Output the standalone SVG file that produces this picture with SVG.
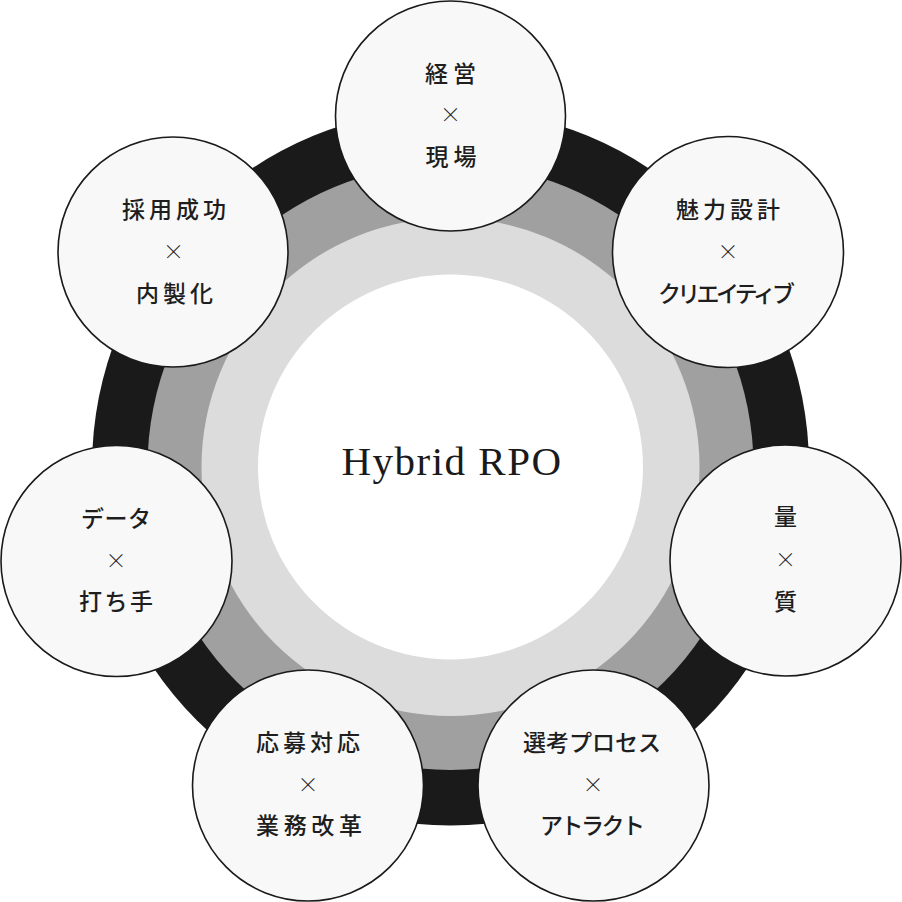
<svg xmlns="http://www.w3.org/2000/svg" width="902" height="902" viewBox="0 0 902 902">
<style>
.sat{fill:#f9f8f8;stroke:#1a1a1a;stroke-width:1.6}
.lb{font-family:"Noto Sans CJK JP","Noto Sans",sans-serif;font-size:23px;font-weight:500;fill:#1e1e1e;text-anchor:middle;dominant-baseline:central}
.x{font-family:"Noto Sans CJK JP","Noto Sans",sans-serif;font-size:21px;font-weight:300;fill:#1e1e1e;text-anchor:middle;dominant-baseline:central}
.title{font-family:"Liberation Serif","DejaVu Serif",serif;font-size:41px;fill:#1a1a1a;text-anchor:middle;letter-spacing:1.5px}
</style>
<rect width="902" height="902" fill="#ffffff"/>
<g id="rings">
<circle cx="450.5" cy="467" r="358.5" fill="#1a1a1a"/>
<circle cx="450.5" cy="467" r="303" fill="#a0a0a0"/>
<circle cx="450.5" cy="467" r="249" fill="#dcdcdc"/>
<circle cx="450.5" cy="467" r="192.5" fill="#ffffff"/>
</g>
<g id="center">
<text class="title" x="452" y="475">Hybrid RPO</text>
</g>
<g id="node-top">
<circle class="sat" cx="450.5" cy="116" r="115"/>
<text class="lb" x="450.5" y="72" textLength="51" lengthAdjust="spacing">経営</text>
<text class="x" x="450.5" y="113">×</text>
<text class="lb" x="451" y="155" textLength="51" lengthAdjust="spacing">現場</text>
</g>
<g id="node-top-right">
<circle class="sat" cx="728" cy="252" r="115.5"/>
<text class="lb" x="728" y="208" textLength="104" lengthAdjust="spacing">魅力設計</text>
<text class="x" x="728" y="250">×</text>
<text class="lb" x="726.5" y="292" textLength="137" lengthAdjust="spacing">クリエイティブ</text>
</g>
<g id="node-right">
<circle class="sat" cx="785.5" cy="560.5" r="115.5"/>
<text class="lb" x="785.5" y="515">量</text>
<text class="x" x="785.5" y="558">×</text>
<text class="lb" x="785.5" y="600">質</text>
</g>
<g id="node-bottom-right">
<circle class="sat" cx="593.5" cy="785.5" r="115.5"/>
<text class="lb" x="592" y="741" textLength="138" lengthAdjust="spacing">選考プロセス</text>
<text class="x" x="593" y="783">×</text>
<text class="lb" x="592.5" y="824" textLength="105" lengthAdjust="spacing">アトラクト</text>
</g>
<g id="node-bottom-left">
<circle class="sat" cx="308" cy="785.5" r="115.5"/>
<text class="lb" x="308" y="741" textLength="104" lengthAdjust="spacing">応募対応</text>
<text class="x" x="308" y="783">×</text>
<text class="lb" x="309" y="824" textLength="106" lengthAdjust="spacing">業務改革</text>
</g>
<g id="node-left">
<circle class="sat" cx="116.5" cy="561" r="115.5"/>
<text class="lb" x="116" y="517" textLength="70" lengthAdjust="spacing">データ</text>
<text class="x" x="116" y="559">×</text>
<text class="lb" x="116" y="600" textLength="74" lengthAdjust="spacing">打ち手</text>
</g>
<g id="node-top-left">
<circle class="sat" cx="173" cy="252" r="115"/>
<text class="lb" x="174" y="208" textLength="104" lengthAdjust="spacing">採用成功</text>
<text class="x" x="173.5" y="250">×</text>
<text class="lb" x="174.5" y="292" textLength="77" lengthAdjust="spacing">内製化</text>
</g>
</svg>
